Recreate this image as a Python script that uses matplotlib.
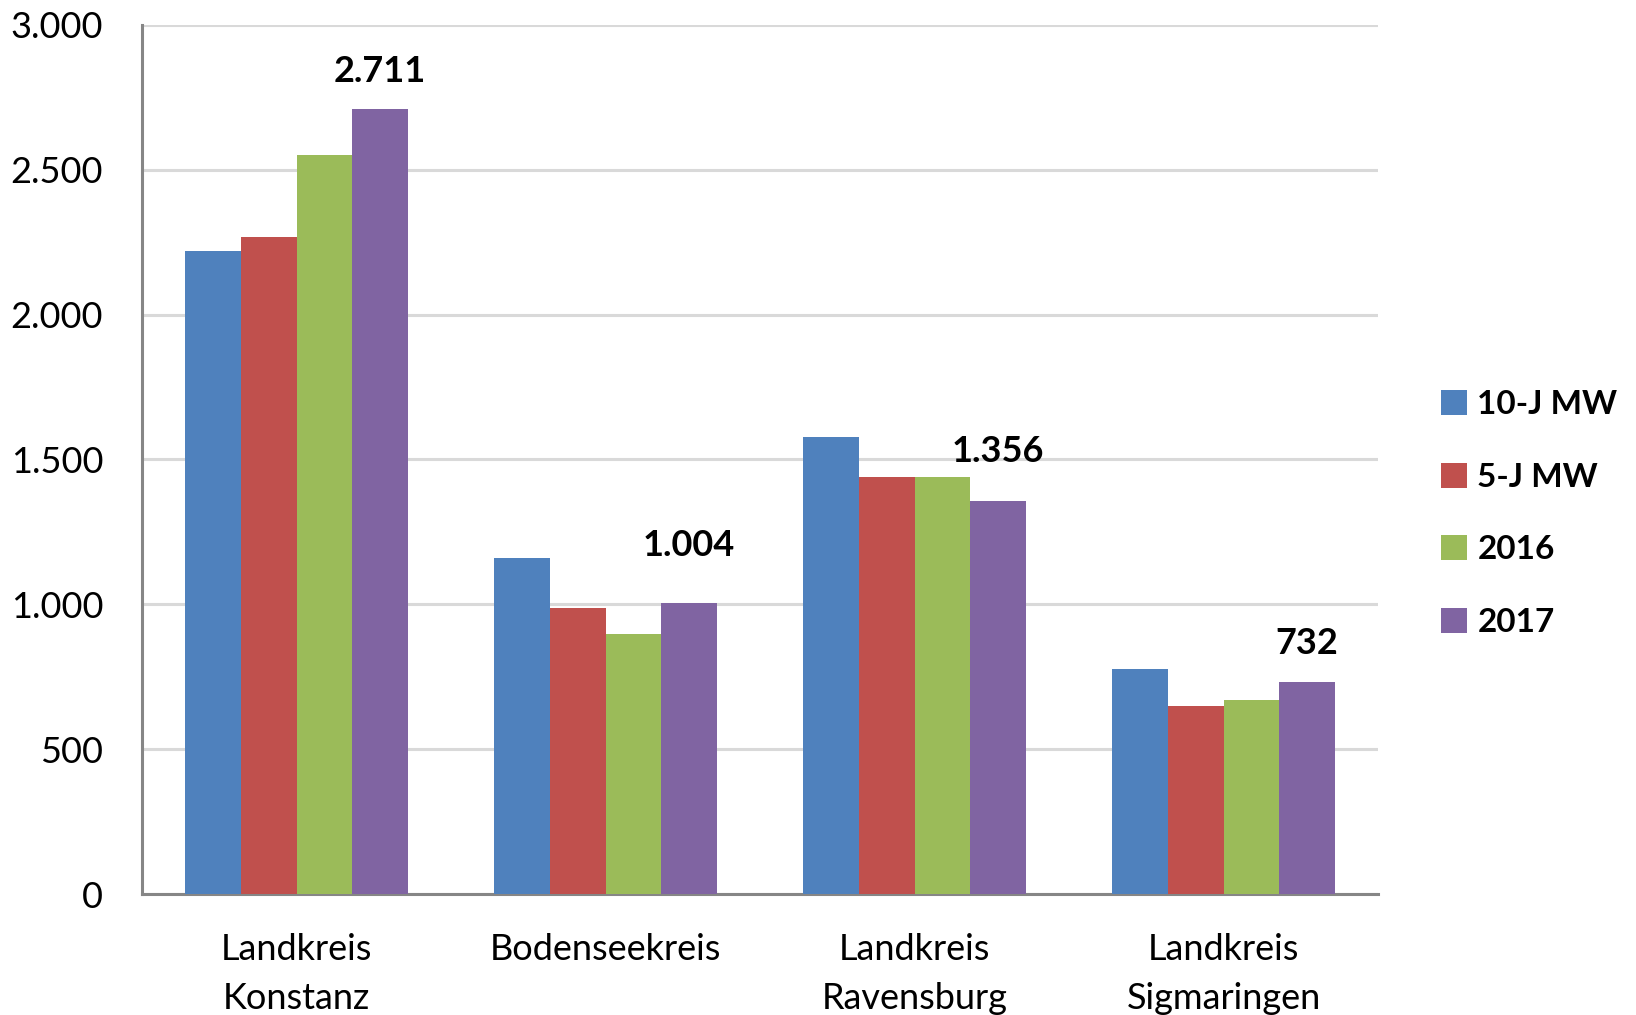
import matplotlib.pyplot as plt
import numpy as np

plt.rcParams['font.family'] = ['Lato', 'DejaVu Sans']

# data
districts = ['Landkreis\nKonstanz', 'Bodenseekreis', 'Landkreis\nRavensburg', 'Landkreis\nSigmaringen']
series_names = ['10-J MW', '5-J MW', '2016', '2017']
mw10 = [2220, 1160, 1577, 778]
mw5 = [2267, 986, 1440, 648]
y2016 = [2551, 896, 1440, 670]
y2017 = [2711, 1004, 1356, 732]
yticks = [0, 500, 1000, 1500, 2000, 2500, 3000]

colors = ['#4F81BD', '#C0504D', '#9BBB59', '#8064A2']
label_offsets = [15, 30, 24, 16]  # points above the 2017 bar

fig = plt.figure(figsize=(16.36, 10.15), dpi=100)
ax = fig.add_axes([0.0868, 0.1192, 0.7555, 0.8562])

x = np.arange(len(districts))
width = 0.18
all_series = [mw10, mw5, y2016, y2017]
for i, (vals, name) in enumerate(zip(all_series, series_names)):
    ax.bar(x + (i - 1.5) * width, vals, width, color=colors[i], label=name,
           edgecolor='none', zorder=3)

# bold value labels above the 2017 bars
for xi, v, off in zip(x, y2017, label_offsets):
    txt = f'{v:,}'.replace(',', '.')
    ax.annotate(txt, (xi + 1.5 * width, v), xytext=(0, off), textcoords='offset points',
                ha='center', va='bottom', fontsize=26, fontweight='bold')

ax.set_xlim(-0.5, len(districts) - 0.5)
ax.set_ylim(0, 3000)
ax.set_yticks(yticks)
ax.set_yticklabels([f'{t:,}'.replace(',', '.') for t in yticks], fontsize=26)
ax.set_xticks(x)
ax.set_xticklabels(districts, fontsize=26, linespacing=1.6)
ax.tick_params(axis='both', length=0)
ax.tick_params(axis='y', pad=28)
ax.tick_params(axis='x', pad=28)

ax.grid(axis='y', color='#D9D9D9', linewidth=2.2, zorder=0)
for s in ['top', 'right']:
    ax.spines[s].set_visible(False)
for s in ['left', 'bottom']:
    ax.spines[s].set_color('#868686')
    ax.spines[s].set_linewidth(2.2)

leg = ax.legend(loc='center left', bbox_to_anchor=(0.8627, 0.494), bbox_transform=fig.transFigure,
                frameon=False, handlelength=0.78, handleheight=0.78, handletextpad=0.3,
                labelspacing=1.3, prop={'size': 24, 'weight': 'bold'})

fig.savefig('out.png', dpi=100)
